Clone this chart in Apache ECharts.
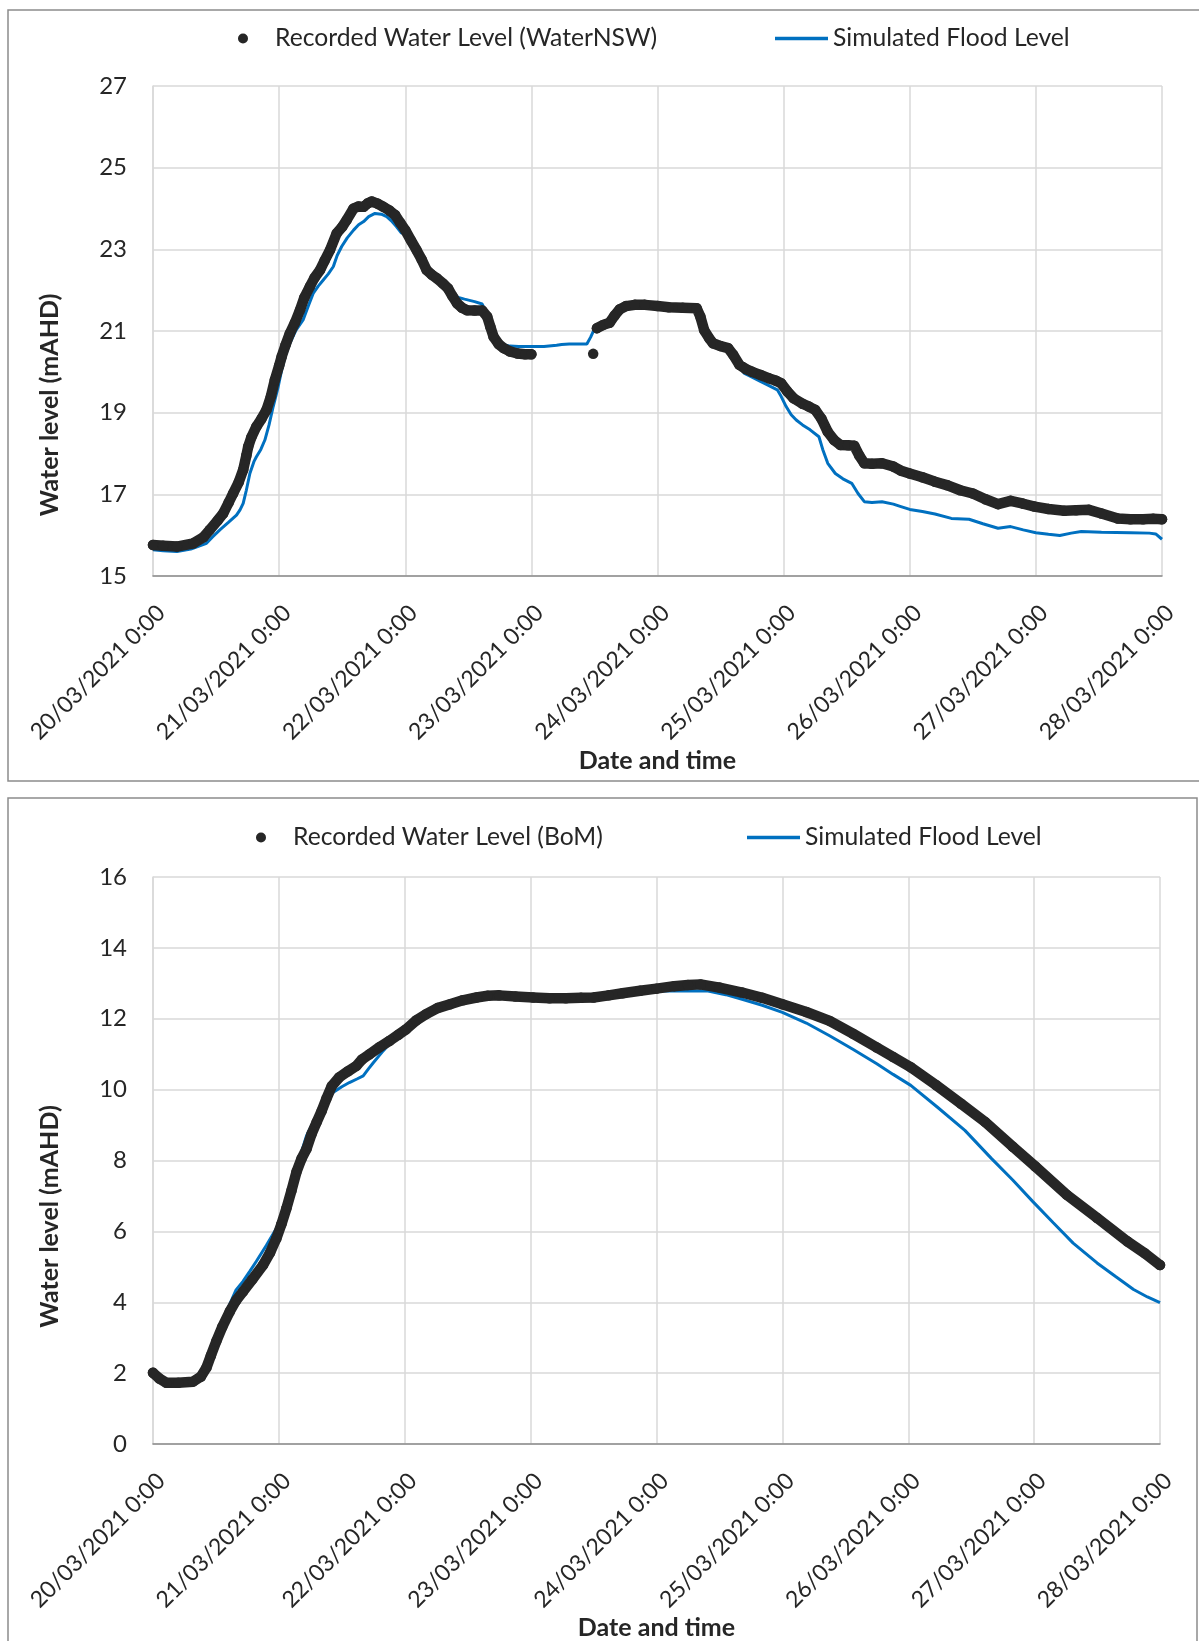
<!DOCTYPE html>
<html><head><meta charset="utf-8">
<script src="https://cdn.jsdelivr.net/npm/echarts@6/dist/echarts.min.js"></script>
<style>html,body{margin:0;padding:0;background:#fff;} #c{width:1199px;height:1641px;}</style>
</head><body><div id="c"></div>
<script>
// x values are days after 20/03/2021 0:00
const tickLabels = ['20/03/2021 0:00','21/03/2021 0:00','22/03/2021 0:00','23/03/2021 0:00','24/03/2021 0:00','25/03/2021 0:00','26/03/2021 0:00','27/03/2021 0:00','28/03/2021 0:00'];

const nswRecordedDays = [0.00,0.08,0.19,0.32,0.40,0.45,0.51,0.556,0.60,0.635,0.68,0.715,0.74,0.755,0.78,0.82,0.86,0.90,0.935,0.966,1.00,1.02,1.05,1.085,1.125,1.165,1.20,1.244,1.28,1.324,1.36,1.403,1.456,1.50,1.536,1.59,1.63,1.67,1.70,1.734,1.78,1.827,1.875,1.92,1.96,2.00,2.045,2.09,2.13,2.17,2.21,2.25,2.30,2.34,2.375,2.41,2.45,2.49,2.55,2.61,2.65,2.675,2.70,2.74,2.78,2.83,2.89,2.95,3.00,3.25,3.49,3.505,3.52,3.57,3.62,3.66,3.70,3.75,3.82,3.90,4.00,4.09,4.20,4.31,4.34,4.37,4.41,4.44,4.50,4.56,4.60,4.65,4.70,4.75,4.82,4.885,4.94,4.98,5.03,5.08,5.15,5.20,5.25,5.30,5.35,5.40,5.45,5.51,5.56,5.60,5.64,5.70,5.78,5.87,5.93,6.00,6.10,6.20,6.30,6.40,6.50,6.60,6.70,6.80,6.90,6.99,7.10,7.225,7.32,7.42,7.52,7.65,7.75,7.85,7.93,8.00];
const nswRecordedLevels = [15.76,15.74,15.72,15.80,15.95,16.13,16.35,16.53,16.80,17.02,17.30,17.60,17.95,18.17,18.40,18.66,18.85,19.07,19.40,19.80,20.15,20.37,20.65,20.94,21.20,21.51,21.82,22.09,22.30,22.49,22.72,22.98,23.39,23.55,23.72,24.00,24.05,24.04,24.12,24.17,24.12,24.04,23.95,23.84,23.65,23.47,23.22,22.98,22.75,22.49,22.38,22.29,22.16,22.04,21.85,21.68,21.57,21.51,21.50,21.50,21.35,21.10,20.86,20.68,20.58,20.50,20.45,20.43,20.43,null,20.44,null,21.07,21.15,21.20,21.38,21.53,21.61,21.64,21.64,21.61,21.58,21.57,21.56,21.35,21.02,20.82,20.70,20.63,20.58,20.42,20.17,20.07,20.00,19.92,19.84,19.78,19.72,19.52,19.35,19.22,19.15,19.07,18.85,18.53,18.33,18.21,18.20,18.19,17.95,17.76,17.75,17.76,17.68,17.58,17.51,17.42,17.31,17.22,17.10,17.02,16.88,16.76,16.84,16.77,16.70,16.64,16.60,16.61,16.62,16.53,16.41,16.39,16.39,16.40,16.39];

const nswSimDays = [0.00,0.08,0.19,0.30,0.424,0.47,0.53,0.60,0.662,0.69,0.715,0.74,0.768,0.80,0.82,0.855,0.887,0.92,0.953,0.99,1.02,1.05,1.085,1.13,1.19,1.23,1.27,1.31,1.35,1.39,1.43,1.46,1.496,1.54,1.59,1.63,1.67,1.71,1.76,1.81,1.853,1.89,1.93,1.97,2.00,2.05,2.09,2.13,2.17,2.21,2.25,2.30,2.34,2.38,2.42,2.47,2.55,2.61,2.65,2.68,2.70,2.75,2.79,2.83,2.90,3.00,3.10,3.20,3.24,3.30,3.44,3.47,3.50,3.55,3.62,3.66,3.70,3.75,3.82,3.90,4.00,4.09,4.20,4.31,4.34,4.37,4.41,4.44,4.50,4.56,4.60,4.65,4.69,4.75,4.82,4.88,4.95,4.98,5.02,5.06,5.10,5.15,5.21,5.28,5.31,5.35,5.41,5.47,5.54,5.59,5.64,5.70,5.78,5.87,5.93,6.00,6.10,6.20,6.33,6.47,6.58,6.70,6.80,6.90,7.00,7.10,7.19,7.28,7.36,7.52,7.75,7.90,7.95,8.00];
const nswSimLevels = [15.64,15.62,15.60,15.66,15.80,15.95,16.13,16.32,16.49,16.62,16.78,17.10,17.51,17.80,17.92,18.10,18.33,18.70,19.15,19.60,20.04,20.40,20.70,21.00,21.27,21.60,21.92,22.10,22.25,22.40,22.58,22.85,23.07,23.28,23.47,23.60,23.68,23.80,23.88,23.86,23.80,23.70,23.56,23.40,23.40,23.15,22.95,22.72,22.48,22.36,22.28,22.15,22.05,21.92,21.82,21.78,21.72,21.66,21.40,21.15,20.94,20.73,20.66,20.63,20.62,20.62,20.62,20.65,20.67,20.68,20.68,20.85,21.05,21.13,21.19,21.36,21.51,21.59,21.62,21.62,21.60,21.57,21.56,21.55,21.33,21.00,20.80,20.68,20.61,20.55,20.38,20.12,19.96,19.87,19.76,19.67,19.56,19.40,19.15,18.95,18.82,18.70,18.58,18.41,18.10,17.76,17.51,17.38,17.27,17.02,16.82,16.80,16.82,16.76,16.70,16.63,16.58,16.52,16.41,16.39,16.28,16.17,16.21,16.13,16.06,16.02,15.99,16.05,16.09,16.07,16.06,16.05,16.03,15.90];

const bomRecordedDays = [0.00,0.05,0.106,0.20,0.318,0.38,0.424,0.46,0.503,0.55,0.61,0.66,0.715,0.79,0.874,0.93,0.98,1.02,1.06,1.10,1.14,1.18,1.22,1.26,1.30,1.34,1.377,1.42,1.48,1.55,1.616,1.66,1.72,1.80,1.88,1.95,2.01,2.09,2.17,2.26,2.36,2.46,2.57,2.66,2.75,2.88,3.02,3.15,3.28,3.40,3.50,3.62,3.73,3.87,4.00,4.14,4.25,4.35,4.50,4.68,4.84,5.00,5.19,5.375,5.56,5.75,5.88,6.02,6.22,6.42,6.61,6.83,7.01,7.26,7.50,7.74,7.88,8.00];
const bomRecordedLevels = [2.01,1.85,1.73,1.73,1.76,1.90,2.15,2.50,2.90,3.30,3.74,4.05,4.30,4.65,5.05,5.40,5.80,6.20,6.65,7.15,7.68,8.05,8.33,8.75,9.08,9.40,9.74,10.10,10.35,10.52,10.67,10.85,11.00,11.20,11.38,11.55,11.70,11.95,12.13,12.30,12.41,12.52,12.60,12.65,12.66,12.63,12.60,12.58,12.58,12.59,12.60,12.66,12.72,12.79,12.85,12.92,12.95,12.97,12.88,12.74,12.59,12.41,12.19,11.94,11.58,11.19,10.92,10.63,10.13,9.60,9.09,8.39,7.83,7.03,6.38,5.72,5.38,5.05];

const bomSimDays = [0.00,0.05,0.106,0.20,0.318,0.38,0.424,0.46,0.503,0.55,0.61,0.66,0.715,0.77,0.82,0.90,0.98,1.02,1.06,1.14,1.22,1.30,1.36,1.43,1.50,1.56,1.62,1.67,1.71,1.75,1.83,1.88,1.95,2.01,2.09,2.17,2.26,2.36,2.46,2.57,2.66,2.75,2.88,3.02,3.15,3.28,3.40,3.50,3.62,3.73,3.87,4.00,4.20,4.41,4.55,4.68,4.84,5.00,5.19,5.375,5.56,5.75,5.88,6.02,6.23,6.45,6.66,6.83,6.99,7.15,7.31,7.50,7.65,7.79,7.90,8.00];
const bomSimLevels = [2.00,1.85,1.74,1.74,1.77,1.92,2.17,2.55,2.98,3.45,3.95,4.35,4.59,4.88,5.15,5.60,6.08,6.45,6.83,7.80,8.70,9.27,9.65,9.92,10.08,10.20,10.30,10.39,10.58,10.76,11.10,11.30,11.52,11.70,11.97,12.17,12.36,12.50,12.59,12.67,12.72,12.72,12.67,12.62,12.58,12.58,12.60,12.62,12.67,12.72,12.76,12.78,12.79,12.78,12.68,12.55,12.38,12.18,11.88,11.52,11.14,10.73,10.43,10.12,9.51,8.85,8.06,7.45,6.84,6.25,5.67,5.11,4.72,4.36,4.15,3.99];

const FONT = 'Lato';
const TXT = '#262626';
const REC = '#262626';
const SIM = '#0070C0';

function pairs(days, levels){ return days.map((d,i)=> levels[i]===null ? [d,'-'] : [d, levels[i]]); }

function xAx(gi, nameGap){
  return {type:'value', gridIndex:gi, min:0, max:8, interval:1,
    axisLine:{show:true, onZero:false, lineStyle:{color:'#8c8c8c', width:1.5}},
    axisTick:{show:false},
    splitLine:{show:true, lineStyle:{color:'#d9d9d9', width:1.5}},
    axisLabel:{rotate:45, interval:0, margin:25, verticalAlign:'top', align:'right',
      formatter:v=>tickLabels[Math.round(v)], color:TXT, fontFamily:FONT, fontSize:23,
      showMinLabel:true, showMaxLabel:true, hideOverlap:false},
    name:'Date and time', nameLocation:'middle', nameGap:nameGap,
    nameTextStyle:{fontFamily:FONT, fontWeight:'bold', fontSize:25, color:TXT}};
}
function yAx(gi, min, max, shift){
  return {type:'value', gridIndex:gi, min:min, max:max, interval:2,
    axisLine:{show:true, lineStyle:{color:'#d9d9d9', width:1.5}},
    axisTick:{show:false},
    splitLine:{show:true, lineStyle:{color:'#d9d9d9', width:1.5}},
    axisLabel:{margin:26, color:TXT, fontFamily:FONT, fontSize:24},
    name:'Water level (mAHD)', nameLocation:'middle', nameGap:91, nameRotate:90,
    nameTextStyle:{fontFamily:FONT, fontWeight:'bold', fontSize:25, color:TXT, padding:[0, shift, 0, 0]}};
}
function recSeries(name, gi, data){
  return {name:name, type:'line', xAxisIndex:gi, yAxisIndex:gi, data:data,
    symbol:'circle', symbolSize:10.5, showSymbol:true, showAllSymbol:true,
    lineStyle:{color:REC, width:10.5, cap:'round', join:'round'},
    itemStyle:{color:REC, borderWidth:0}, connectNulls:false, clip:false, z:3,
    emphasis:{disabled:true}};
}
function simSeries(gi, data){
  return {name:'Simulated Flood Level', type:'line', xAxisIndex:gi, yAxisIndex:gi, data:data,
    symbol:'none', lineStyle:{color:SIM, width:3}, itemStyle:{color:SIM}, clip:false, z:2,
    emphasis:{disabled:true}};
}
function dotLegend(name, left, top){
  return {data:[{name:name, icon:'circle'}], left:left, top:top, itemWidth:10, itemHeight:10,
    padding:0, selectedMode:false,
    textStyle:{fontFamily:FONT, fontSize:24.7, color:TXT, padding:[0,0,0,22]}};
}
function lineLegend(left, top){
  return {data:[{name:'Simulated Flood Level', icon:'rect'}], left:left, top:top, itemWidth:53, itemHeight:3.5,
    padding:0, selectedMode:false, itemStyle:{color:SIM},
    textStyle:{fontFamily:FONT, fontSize:24.7, color:TXT}};
}

const chart = echarts.init(document.getElementById('c'), null, {renderer:'canvas'});
chart.setOption({
  animation:false,
  backgroundColor:'#ffffff',
  textStyle:{fontFamily:FONT},
  graphic:[
    {type:'rect', silent:true, shape:{x:8, y:10, width:1205, height:771}, style:{fill:'none', stroke:'#8c8c8c', lineWidth:1.5}},
    {type:'rect', silent:true, shape:{x:8, y:798, width:1189, height:870}, style:{fill:'none', stroke:'#8c8c8c', lineWidth:1.5}}
  ],
  grid:[{left:153, top:86, width:1009, height:490}, {left:153, top:877, width:1007, height:576}],
  xAxis:[xAx(0, 172), xAx(1, 160)],
  yAxis:[yAx(0, 15, 27, 148), yAx(1, 0, 16, 112)],
  legend:[
    dotLegend('Recorded Water Level (WaterNSW)', 238, 26),
    lineLegend(775, 26),
    dotLegend('Recorded Water Level (BoM)', 256, 825),
    lineLegend(747, 825)
  ],
  series:[
    simSeries(0, pairs(nswSimDays, nswSimLevels)),
    recSeries('Recorded Water Level (WaterNSW)', 0, pairs(nswRecordedDays, nswRecordedLevels)),
    simSeries(1, pairs(bomSimDays, bomSimLevels)),
    recSeries('Recorded Water Level (BoM)', 1, pairs(bomRecordedDays, bomRecordedLevels))
  ]
});
</script></body></html>
